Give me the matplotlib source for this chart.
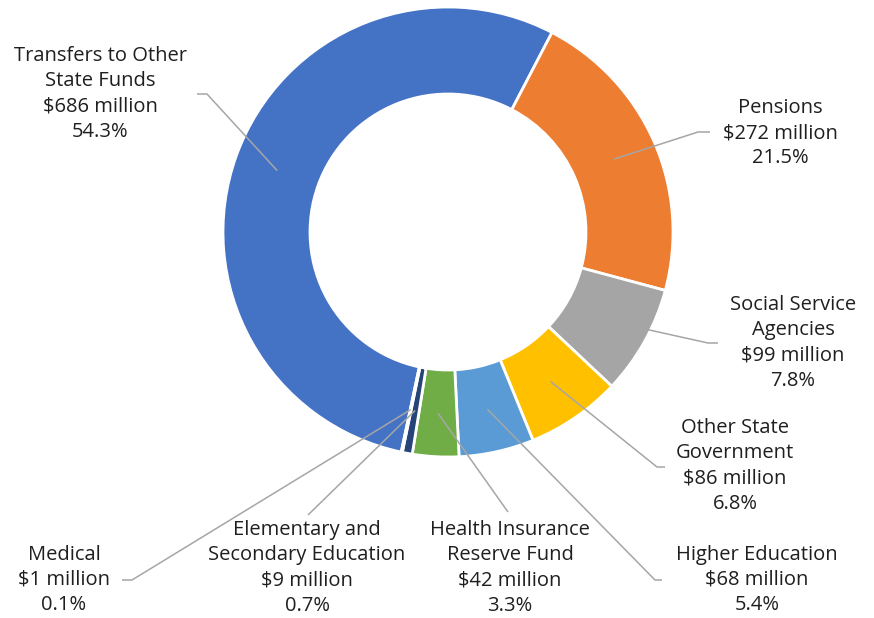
import numpy as np
import matplotlib
matplotlib.use("Agg")
import matplotlib.pyplot as plt

# ---- data ----
categories = ["Transfers to Other\nState Funds", "Pensions", "Social Service\nAgencies",
              "Other State\nGovernment", "Higher Education", "Health Insurance\nReserve Fund",
              "Elementary and\nSecondary Education", "Medical"]
values_millions = [686, 272, 99, 86, 68, 42, 9, 1]
colors = ["#4472C4", "#ED7D31", "#A5A5A5", "#FFC000", "#5B9BD5", "#70AD47", "#264478", "#9E480E"]

# ---- layout (pixel coords, y measured from top) ----
W, H = 874, 618
CX, CY = 448, 232
R_OUT, R_IN = 225, 138
# text centers, elbow points, horizontal end x (None = no horizontal)
text_pos = [(100, 94), (780, 133), (793, 343), (735, 466), (757, 580), (510, 568), (307, 568), (64, 580)]
elbows = [(207, 94), (698, 132), (708, 343), (657, 467), (655, 580), (508, 512), (308, 515), (132, 580)]
hend = [197, 710, 718, 665, 662, None, None, 122]

plt.rcParams['font.family'] = ['Open Sans', 'DejaVu Sans']

fig = plt.figure(figsize=(W / 100, H / 100), dpi=100)
ax = fig.add_axes([0, 0, 1, 1])
ax.set_xlim(0, W)
ax.set_ylim(0, H)
ax.set_aspect('equal')
ax.axis('off')

def Y(y):
    return H - y

wedges, _ = ax.pie(values_millions, colors=colors, center=(CX, Y(CY)), radius=R_OUT,
                   startangle=-102, counterclock=False,
                   wedgeprops=dict(width=R_OUT - R_IN, edgecolor='white', linewidth=2))
ax.set_xlim(0, W)
ax.set_ylim(0, H)

total = sum(values_millions)
rmid = (R_OUT + R_IN) / 2
for i, w in enumerate(wedges):
    mid = np.deg2rad((w.theta1 + w.theta2) / 2)
    ax_ = CX + rmid * np.cos(mid)
    ay_ = Y(CY) + rmid * np.sin(mid)
    ex, ey = elbows[i]
    xs = [ax_, ex]
    ys = [ay_, Y(ey)]
    if hend[i] is not None:
        xs.append(hend[i])
        ys.append(Y(ey))
    ax.plot(xs, ys, color='#A6A6A6', lw=1.1, zorder=5, solid_capstyle='butt')
    pct = values_millions[i] / total * 100
    label = f"{categories[i]}\n${values_millions[i]} million\n{pct:.1f}%"
    tx, ty = text_pos[i]
    ax.text(tx, Y(ty), label, ha='center', va='center', fontsize=14.5,
            color='#1f1f1f', linespacing=1.36, zorder=6)

fig.savefig("out.png", dpi=100)
